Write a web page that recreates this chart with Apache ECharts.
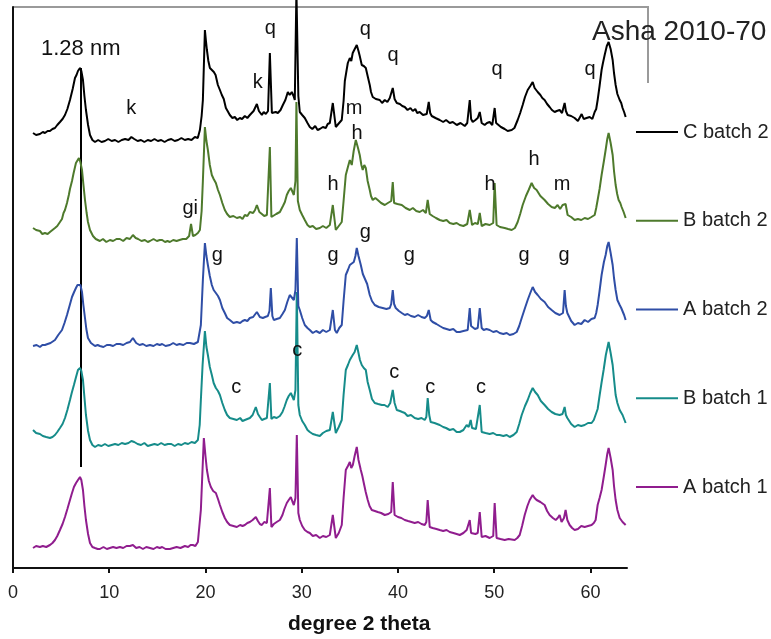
<!DOCTYPE html>
<html>
<head>
<meta charset="utf-8">
<script src="https://cdn.jsdelivr.net/npm/echarts@6/dist/echarts.min.js"></script>
<style>
  html, body { margin: 0; padding: 0; background: #fff; }
  #chart { width: 771px; height: 639px; }
</style>
</head>
<body>
<div id="chart"></div>
<script>
// X-ray diffraction patterns, intensity (arbitrary units) vs. degree 2 theta
const xTicks = [0, 10, 20, 30, 40, 50, 60];
const seriesNames = ['C batch 2', 'B batch 2', 'A batch 2', 'B batch 1', 'A batch 1'];
const seriesColors = ['#000000', '#4e7a2c', '#2f4ea6', '#168c8a', '#901d8e'];
// vertical stacking offset of each pattern
const stackOffsets = [427, 327, 222, 123, 20];

const cBatch2 = [[2.08,8],[2.4,6],[2.8,7],[3.1,9],[3.32,8],[3.6,10],[3.84,10],[4.1,12],[4.36,13],[4.6,16],[4.88,19],[5.15,22],[5.4,26],[5.65,32],[5.92,41],[6.2,52],[6.44,63],[6.6,66],[6.75,70],[6.96,73],[7.1,70],[7.27,61],[7.42,45],[7.58,31],[7.8,16],[8.0,6],[8.25,1],[8.52,-1],[8.85,1],[9.2,-1],[9.55,0],[9.9,2],[10.25,0],[10.6,1],[10.95,-1],[11.3,1],[11.65,2],[12.0,1],[12.3,4],[12.6,2],[12.95,0],[13.3,1],[13.65,-1],[14.0,1],[14.35,0],[14.7,2],[15.05,0],[15.4,1],[15.75,-1],[16.1,1],[16.45,2],[16.8,0],[17.15,1],[17.5,3],[17.85,1],[18.2,2],[18.55,1],[18.9,4],[19.2,3],[19.42,11],[19.6,25],[19.73,41],[19.94,111],[20.05,100],[20.15,91],[20.3,80],[20.46,73],[20.65,71],[20.87,69],[21.05,66],[21.29,56],[21.5,51],[21.7,46],[21.9,42],[22.12,33],[22.3,30],[22.53,26],[22.8,23],[23.05,24],[23.3,21],[23.57,23],[23.8,22],[24.09,25],[24.35,23],[24.61,26],[24.8,25],[25.0,30],[25.15,29],[25.34,37],[25.55,30],[25.86,26],[26.05,29],[26.27,27],[26.5,30],[26.69,88],[26.9,28],[27.1,26],[27.3,29],[27.52,28],[27.8,31],[28.04,36],[28.3,41],[28.56,49],[28.75,46],[28.97,49],[29.15,45],[29.28,41],[29.45,150],[29.65,45],[29.8,29],[30.05,26],[30.32,23],[30.6,18],[30.84,14],[31.1,12],[31.4,15],[31.65,11],[31.88,12],[32.2,14],[32.5,13],[32.7,17],[32.92,18],[33.23,38],[33.54,14],[33.8,17],[34.16,21],[34.35,40],[34.48,60],[34.65,70],[34.79,78],[35.0,83],[35.15,80],[35.3,88],[35.5,86],[35.72,96],[35.9,90],[36.03,85],[36.24,76],[36.45,75],[36.66,73],[36.85,65],[37.07,56],[37.2,49],[37.38,44],[37.7,42],[38.11,41],[38.35,38],[38.63,41],[38.9,39],[39.15,43],[39.3,45],[39.46,53],[39.65,42],[39.88,38],[40.2,37],[40.45,35],[40.71,34],[41.0,31],[41.3,33],[41.54,30],[41.8,32],[42.0,28],[42.26,29],[42.6,26],[42.99,27],[43.2,39],[43.35,28],[43.51,25],[43.9,23],[44.34,21],[44.7,19],[45.0,21],[45.38,18],[45.7,19],[46.11,16],[46.5,18],[46.94,15],[47.2,18],[47.46,41],[47.6,22],[47.77,19],[48.05,21],[48.29,23],[48.5,29],[48.7,18],[49.01,16],[49.25,18],[49.53,19],[49.8,16],[50.05,33],[50.2,18],[50.36,16],[50.7,14],[51.09,12],[51.4,10],[51.82,11],[52.1,13],[52.44,21],[52.7,28],[52.96,36],[53.2,44],[53.48,51],[53.75,55],[54.0,59],[54.2,53],[54.52,49],[54.8,46],[55.0,43],[55.24,41],[55.5,37],[55.76,34],[56.0,31],[56.28,29],[56.5,30],[56.8,31],[57.05,28],[57.32,38],[57.45,30],[57.63,26],[58.0,25],[58.36,23],[58.7,20],[59.09,27],[59.3,22],[59.6,23],[59.92,24],[60.2,22],[60.44,29],[60.6,32],[60.75,41],[60.95,55],[61.16,71],[61.3,78],[61.48,86],[61.7,95],[61.89,99],[62.1,92],[62.31,81],[62.45,68],[62.62,56],[62.8,47],[63.04,41],[63.2,38],[63.34,33],[63.5,29],[63.66,24]];

const bBatch2 = [[2.08,13],[2.4,11],[2.8,10],[3.05,7],[3.32,8],[3.6,7],[3.84,9],[4.1,11],[4.36,13],[4.6,15],[4.88,19],[5.09,22],[5.25,28],[5.4,31],[5.61,38],[5.8,46],[5.92,52],[6.13,60],[6.3,68],[6.54,78],[6.7,80],[6.85,83],[7.0,79],[7.17,71],[7.3,58],[7.48,41],[7.65,28],[7.79,19],[8.0,11],[8.31,5],[8.6,2],[9.03,0],[9.35,2],[9.7,-1],[10.07,1],[10.4,0],[10.75,2],[11.11,2],[11.45,0],[11.8,3],[12.15,2],[12.46,6],[12.75,3],[13.0,2],[13.35,0],[13.7,1],[14.0,-1],[14.23,0],[14.6,2],[14.95,0],[15.25,1],[15.5,1],[15.8,-1],[16.05,0],[16.3,-1],[16.65,1],[17.0,0],[17.3,1],[17.65,2],[18.0,2],[18.3,5],[18.5,17],[18.7,5],[18.95,6],[19.21,8],[19.42,11],[19.6,30],[19.73,60],[19.94,114],[20.1,100],[20.25,91],[20.45,76],[20.66,66],[20.85,62],[21.08,58],[21.3,51],[21.5,46],[21.75,38],[22.01,31],[22.25,27],[22.53,24],[22.9,25],[23.26,23],[23.6,24],[23.85,22],[24.09,26],[24.35,25],[24.61,29],[24.95,28],[25.15,31],[25.34,36],[25.6,29],[25.86,27],[26.1,25],[26.38,26],[26.55,28],[26.69,94],[26.85,24],[27.05,26],[27.35,27],[27.73,29],[28.05,35],[28.25,39],[28.45,46],[28.65,50],[28.87,53],[29.05,49],[29.18,46],[29.35,60],[29.45,139],[29.6,40],[29.8,31],[30.05,26],[30.32,21],[30.6,16],[30.84,14],[31.15,15],[31.5,12],[31.88,13],[32.2,15],[32.55,13],[32.92,16],[33.23,36],[33.54,11],[33.85,15],[34.16,19],[34.35,40],[34.58,66],[34.8,74],[35.0,81],[35.2,76],[35.4,90],[35.62,101],[35.85,93],[36.03,86],[36.2,76],[36.34,71],[36.5,76],[36.66,73],[36.85,60],[37.07,51],[37.2,45],[37.38,41],[37.65,43],[37.9,41],[38.25,38],[38.63,36],[38.95,38],[39.3,40],[39.46,59],[39.6,38],[39.95,37],[40.15,39],[40.4,36],[40.8,33],[41.23,31],[41.55,33],[41.9,30],[42.26,29],[42.6,31],[42.9,28],[43.09,41],[43.3,27],[43.6,25],[43.95,23],[44.34,21],[44.7,20],[45.05,21],[45.38,18],[45.75,17],[46.1,18],[46.42,16],[46.8,15],[47.2,17],[47.46,31],[47.7,16],[48.0,18],[48.3,17],[48.5,28],[48.7,15],[49.1,17],[49.53,16],[49.9,18],[50.05,58],[50.25,16],[50.6,14],[51.09,13],[51.45,12],[51.82,11],[52.15,13],[52.44,19],[52.7,27],[52.96,36],[53.3,45],[53.58,51],[53.89,58],[54.15,53],[54.41,51],[54.8,45],[55.0,43],[55.24,41],[55.6,37],[55.97,34],[56.3,33],[56.59,36],[56.85,32],[57.11,36],[57.42,37],[57.63,26],[58.0,24],[58.36,21],[58.7,22],[59.05,21],[59.4,23],[59.75,22],[60.1,24],[60.44,26],[60.6,33],[60.75,41],[60.95,52],[61.16,66],[61.4,80],[61.58,91],[61.75,102],[61.89,108],[62.1,98],[62.31,86],[62.45,70],[62.62,56],[62.78,47],[62.93,41],[63.1,38],[63.24,34],[63.45,29],[63.66,23]];

const aBatch2 = [[2.08,0],[2.45,1],[2.8,-1],[3.05,1],[3.32,1],[3.6,2],[3.9,3],[4.1,5],[4.36,6],[4.7,11],[5.09,16],[5.35,23],[5.61,31],[5.9,41],[6.13,49],[6.35,54],[6.54,58],[6.7,61],[6.85,63],[7.0,61],[7.17,54],[7.3,42],[7.48,28],[7.62,17],[7.79,8],[8.1,3],[8.52,0],[8.8,1],[9.03,0],[9.4,-1],[9.75,1],[10.07,1],[10.4,0],[10.75,2],[11.11,2],[11.45,1],[11.8,3],[12.15,4],[12.46,8],[12.8,3],[13.15,1],[13.5,2],[13.85,0],[14.23,1],[14.6,0],[14.95,2],[15.25,1],[15.5,2],[15.85,0],[16.3,1],[16.65,3],[17.0,1],[17.3,2],[17.7,1],[18.05,3],[18.38,3],[18.8,2],[19.21,4],[19.52,21],[19.73,66],[19.94,103],[20.1,90],[20.25,81],[20.45,70],[20.66,61],[20.85,56],[21.08,53],[21.3,50],[21.5,46],[21.75,38],[22.01,33],[22.25,28],[22.53,26],[22.9,23],[23.26,24],[23.6,23],[23.85,25],[24.09,26],[24.35,25],[24.61,28],[24.95,29],[25.15,31],[25.34,34],[25.65,29],[25.96,28],[26.2,29],[26.48,30],[26.65,35],[26.79,58],[26.95,30],[27.1,26],[27.4,27],[27.73,28],[28.0,32],[28.25,36],[28.5,44],[28.76,51],[28.95,49],[29.18,46],[29.35,56],[29.49,108],[29.65,40],[29.8,36],[30.05,28],[30.32,21],[30.6,18],[30.84,16],[31.15,13],[31.5,15],[31.88,13],[32.2,16],[32.55,14],[32.92,16],[33.23,36],[33.45,16],[33.64,13],[33.9,18],[34.16,21],[34.35,45],[34.58,71],[34.8,76],[35.0,81],[35.2,79],[35.41,84],[35.58,90],[35.72,98],[35.9,90],[36.14,81],[36.35,72],[36.55,73],[36.8,62],[37.07,51],[37.3,45],[37.59,41],[38.0,39],[38.42,38],[38.8,37],[39.15,38],[39.3,42],[39.46,56],[39.6,42],[39.77,38],[40.1,35],[40.4,33],[40.71,31],[41.0,32],[41.35,30],[41.74,29],[42.1,31],[42.45,29],[42.78,28],[43.0,30],[43.2,36],[43.4,26],[43.61,24],[44.0,22],[44.34,20],[44.7,18],[45.05,17],[45.38,16],[45.75,17],[46.1,14],[46.42,14],[46.8,15],[47.25,16],[47.46,38],[47.6,20],[47.77,18],[48.0,17],[48.29,18],[48.5,38],[48.7,18],[48.91,16],[49.2,17],[49.53,16],[49.9,14],[50.25,15],[50.57,13],[50.95,12],[51.3,13],[51.61,11],[52.0,12],[52.34,14],[52.6,20],[52.86,28],[53.2,38],[53.48,46],[53.75,53],[54.0,59],[54.25,54],[54.52,51],[54.85,47],[55.24,44],[55.6,39],[55.97,36],[56.35,33],[56.8,31],[57.15,33],[57.32,56],[57.45,40],[57.6,33],[58.0,25],[58.36,21],[58.7,23],[59.05,22],[59.4,26],[59.75,24],[60.1,27],[60.44,28],[60.6,33],[60.75,41],[60.95,55],[61.16,71],[61.4,84],[61.58,91],[61.75,100],[61.89,104],[62.1,93],[62.31,81],[62.45,68],[62.62,56],[62.8,46],[63.04,41],[63.2,38],[63.34,36],[63.5,31],[63.66,26]];

const bBatch1 = [[2.08,15],[2.4,12],[2.8,11],[3.1,9],[3.45,8],[3.84,7],[4.1,8],[4.36,10],[4.6,13],[4.88,17],[5.15,21],[5.4,27],[5.65,35],[5.92,45],[6.1,52],[6.33,60],[6.55,68],[6.75,75],[6.96,77],[7.1,74],[7.27,65],[7.42,48],[7.58,30],[7.8,14],[8.0,5],[8.25,0],[8.52,-2],[8.85,0],[9.2,-1],[9.55,1],[9.9,-1],[10.25,0],[10.6,1],[10.95,0],[11.3,2],[11.65,1],[12.0,2],[12.3,4],[12.6,3],[12.95,1],[13.3,0],[13.65,2],[14.0,-1],[14.35,0],[14.7,1],[15.05,0],[15.4,2],[15.75,0],[16.1,1],[16.45,1],[16.8,-1],[17.15,1],[17.5,0],[17.85,2],[18.2,1],[18.55,3],[18.9,2],[19.21,5],[19.4,20],[19.52,45],[19.7,80],[19.94,114],[20.1,98],[20.25,90],[20.45,78],[20.66,70],[20.85,62],[21.08,57],[21.3,54],[21.5,50],[21.75,42],[22.01,35],[22.25,30],[22.53,27],[22.9,26],[23.26,25],[23.6,27],[23.85,24],[24.09,25],[24.35,26],[24.61,27],[24.9,30],[25.05,32],[25.23,38],[25.45,31],[25.65,28],[25.86,25],[26.1,26],[26.38,27],[26.55,29],[26.69,62],[26.85,26],[27.1,28],[27.4,27],[27.73,29],[28.0,33],[28.2,38],[28.45,45],[28.65,49],[28.87,52],[29.05,48],[29.18,45],[29.35,55],[29.49,153],[29.65,40],[29.8,30],[30.05,24],[30.32,20],[30.6,15],[30.84,13],[31.15,11],[31.5,10],[31.88,9],[32.2,12],[32.55,14],[32.92,15],[33.23,33],[33.54,12],[33.85,18],[34.16,25],[34.35,50],[34.58,75],[34.8,80],[35.0,85],[35.15,83],[35.3,90],[35.5,93],[35.72,100],[35.9,92],[36.05,85],[36.24,80],[36.45,77],[36.66,75],[36.85,63],[37.07,55],[37.3,46],[37.59,42],[37.95,41],[38.32,40],[38.6,40],[38.94,38],[39.2,42],[39.46,55],[39.65,42],[39.88,35],[40.2,34],[40.45,33],[40.71,32],[41.0,29],[41.35,30],[41.74,27],[42.1,26],[42.45,27],[42.78,25],[42.95,28],[43.09,47],[43.25,30],[43.4,23],[43.8,22],[44.34,20],[44.7,18],[45.0,17],[45.38,15],[45.75,16],[46.1,13],[46.42,13],[46.8,15],[47.14,20],[47.35,18],[47.56,25],[47.7,17],[47.87,15],[48.1,16],[48.29,17],[48.5,40],[48.7,13],[49.1,12],[49.53,11],[49.9,12],[50.25,10],[50.57,10],[50.95,9],[51.3,10],[51.61,8],[52.0,10],[52.34,13],[52.6,21],[52.86,30],[53.2,39],[53.48,45],[53.75,52],[54.0,57],[54.25,53],[54.52,50],[54.85,44],[55.24,40],[55.6,36],[55.97,33],[56.35,31],[56.8,30],[57.1,31],[57.32,38],[57.45,30],[57.6,27],[58.0,21],[58.36,18],[58.7,20],[59.05,19],[59.4,20],[59.75,22],[60.12,22],[60.35,25],[60.54,27],[60.75,36],[60.96,50],[61.15,62],[61.37,75],[61.6,90],[61.89,103],[62.1,92],[62.31,80],[62.45,66],[62.62,50],[62.8,42],[63.04,35],[63.2,33],[63.34,30],[63.5,26],[63.66,22]];

const aBatch1 = [[2.08,0],[2.4,2],[2.8,1],[3.1,2],[3.45,1],[3.84,3],[4.1,5],[4.36,8],[4.6,12],[4.88,18],[5.15,24],[5.4,31],[5.65,39],[5.92,48],[6.1,54],[6.33,61],[6.55,65],[6.75,68],[6.96,71],[7.1,68],[7.27,58],[7.42,42],[7.58,28],[7.8,14],[8.0,5],[8.25,1],[8.52,0],[8.8,-1],[9.03,-1],[9.4,1],[9.75,-1],[10.07,0],[10.4,1],[10.75,0],[11.11,1],[11.45,0],[11.8,2],[12.15,2],[12.46,3],[12.8,0],[13.15,1],[13.5,-1],[13.85,1],[14.23,0],[14.6,-1],[14.95,1],[15.25,0],[15.5,1],[15.85,-1],[16.3,-1],[16.65,0],[17.0,1],[17.4,0],[17.86,2],[18.2,1],[18.45,3],[18.69,3],[18.95,2],[19.21,6],[19.52,38],[19.7,80],[19.83,110],[20.0,92],[20.15,78],[20.35,67],[20.56,61],[20.8,57],[21.08,55],[21.3,49],[21.5,43],[21.75,36],[22.01,30],[22.25,26],[22.53,23],[22.9,22],[23.26,21],[23.6,23],[23.85,22],[24.09,23],[24.35,25],[24.61,26],[24.9,28],[25.05,29],[25.23,31],[25.45,27],[25.65,24],[25.86,23],[26.1,26],[26.38,25],[26.55,27],[26.69,60],[26.85,21],[27.1,24],[27.4,26],[27.73,28],[28.0,33],[28.2,39],[28.45,45],[28.65,48],[28.87,51],[29.05,46],[29.18,43],[29.35,50],[29.49,113],[29.65,35],[29.8,28],[30.05,22],[30.32,18],[30.6,16],[30.84,15],[31.15,12],[31.5,13],[31.88,10],[32.2,12],[32.55,11],[32.92,13],[33.23,33],[33.54,10],[33.85,15],[34.16,23],[34.35,50],[34.58,78],[34.8,82],[35.0,86],[35.15,80],[35.31,83],[35.5,92],[35.72,101],[35.9,88],[36.14,78],[36.3,72],[36.45,65],[36.65,56],[36.86,48],[37.05,42],[37.28,38],[37.6,37],[37.9,36],[38.25,35],[38.63,33],[39.0,34],[39.3,36],[39.46,66],[39.65,33],[40.0,31],[40.35,30],[40.71,28],[41.05,27],[41.4,26],[41.74,25],[42.1,26],[42.45,24],[42.78,23],[42.95,26],[43.09,48],[43.3,21],[43.6,20],[44.0,19],[44.34,18],[44.7,17],[45.05,18],[45.38,16],[45.75,15],[46.1,14],[46.42,13],[46.8,15],[47.14,18],[47.3,16],[47.46,28],[47.6,15],[47.77,13],[48.05,14],[48.29,15],[48.5,36],[48.7,11],[49.1,12],[49.53,10],[49.9,12],[50.05,45],[50.25,10],[50.65,9],[51.09,8],[51.5,9],[52.13,8],[52.4,10],[52.65,13],[52.9,22],[53.17,33],[53.45,42],[53.69,48],[54.0,53],[54.2,50],[54.41,48],[54.8,46],[55.0,44],[55.24,43],[55.5,37],[55.76,33],[56.1,30],[56.39,28],[56.6,30],[56.8,33],[57.0,26],[57.25,30],[57.42,38],[57.6,28],[57.84,23],[58.1,20],[58.36,18],[58.7,19],[59.05,22],[59.4,21],[59.75,22],[60.12,23],[60.35,25],[60.54,28],[60.75,43],[60.95,50],[61.16,58],[61.4,72],[61.58,83],[61.75,94],[61.89,100],[62.1,90],[62.31,78],[62.45,62],[62.62,48],[62.8,38],[63.04,30],[63.2,28],[63.34,26],[63.5,24],[63.66,23]];

const patterns = [cBatch2, bBatch2, aBatch2, bBatch1, aBatch1];

// mineral peak labels: position (2 theta, plotted height) and text
const annoX    = [7.04, 12.29, 25.43, 26.73, 36.60, 39.50, 50.30, 59.97, 35.45, 35.76, 18.42, 33.27, 49.58, 54.15, 57.06, 21.22, 33.27, 36.60, 41.17, 53.11, 57.27, 29.53, 23.20, 39.61, 43.35, 48.64];
const annoY    = [519, 460, 486, 540, 539, 513, 499, 499, 460, 435, 360, 384, 384, 409, 384, 313, 313, 336, 313, 313, 313, 218, 181, 196, 181, 181];
const annoText = ['1.28 nm', 'k', 'k', 'q', 'q', 'q', 'q', 'q', 'm', 'h', 'gi', 'h', 'h', 'h', 'm', 'g', 'g', 'g', 'g', 'g', 'g', 'c', 'c', 'c', 'c', 'c'];

// 1.28 nm reflection marker
const refLineX = 6.99;
const refLineTop = 500;
const refLineBottom = 101;

const FONT = "'Liberation Sans', Arial, sans-serif";

const chart = echarts.init(document.getElementById('chart'));

const lineSeries = patterns.map((pts, i) => {
  const s = {
    name: seriesNames[i],
    type: 'line',
    data: pts.map(p => [p[0], p[1] + stackOffsets[i]]),
    symbol: 'none',
    showSymbol: false,
    clip: i !== 0,
    z: 10 - i,
    lineStyle: { color: seriesColors[i], width: 2 },
    itemStyle: { color: seriesColors[i] },
    emphasis: { disabled: true }
  };
  if (i === 0) {
    s.markLine = {
      silent: true,
      symbol: ['none', 'none'],
      label: { show: false },
      lineStyle: { color: '#000', width: 2, type: 'solid' },
      data: [[{ coord: [refLineX, refLineTop] }, { coord: [refLineX, refLineBottom] }]]
    };
  }
  return s;
});

const labelSeries = {
  type: 'scatter',
  silent: true,
  symbolSize: 1,
  itemStyle: { color: 'transparent', opacity: 1 },
  z: 20,
  data: annoX.map((x, i) => ({
    value: [x, annoY[i]],
    label: {
      show: true,
      position: 'inside',
      formatter: annoText[i],
      fontFamily: FONT,
      fontSize: annoText[i] === '1.28 nm' ? 22 : 20,
      color: '#111',
      opacity: 1,
      textBorderWidth: 0
    }
  }))
};

chart.setOption({
  animation: false,
  backgroundColor: '#fff',
  grid: { left: 13, right: 144, top: 7, bottom: 71 },
  xAxis: {
    type: 'value',
    min: 0,
    max: 63.8,
    axisLine: { show: true, lineStyle: { color: '#111', width: 2 } },
    axisTick: { show: true, customValues: xTicks, length: 5, lineStyle: { color: '#111', width: 2 } },
    axisLabel: { customValues: xTicks, fontFamily: FONT, fontSize: 18, color: '#222', margin: 16 },
    splitLine: { show: false }
  },
  yAxis: {
    type: 'value',
    min: 0,
    max: 561,
    axisLine: { show: true, lineStyle: { color: '#111', width: 2 } },
    axisTick: { show: false },
    axisLabel: { show: false },
    splitLine: { show: false }
  },
  legend: {
    orient: 'vertical',
    left: 636,
    top: 122,
    padding: 0,
    itemGap: 68.75,
    itemWidth: 42,
    itemHeight: 2,
    icon: 'rect',
    selectedMode: false,
    textStyle: { fontFamily: FONT, fontSize: 20, color: '#222' },
    data: seriesNames
  },
  graphic: [
    {
      type: 'polyline',
      silent: true,
      shape: { points: [[13, 7], [648, 7], [648, 83]] },
      style: { stroke: '#9a9a9a', lineWidth: 2, fill: null }
    },
    {
      type: 'text',
      left: 592,
      top: 18,
      silent: true,
      style: { text: 'Asha 2010-70', fontFamily: FONT, fontSize: 28, fill: '#222' }
    },
    {
      type: 'text',
      left: 288,
      top: 614,
      silent: true,
      style: { text: 'degree 2 theta', fontFamily: FONT, fontSize: 21, fontWeight: 'bold', fill: '#111' }
    }
  ],
  series: [...lineSeries, labelSeries]
});
</script>
</body>
</html>
